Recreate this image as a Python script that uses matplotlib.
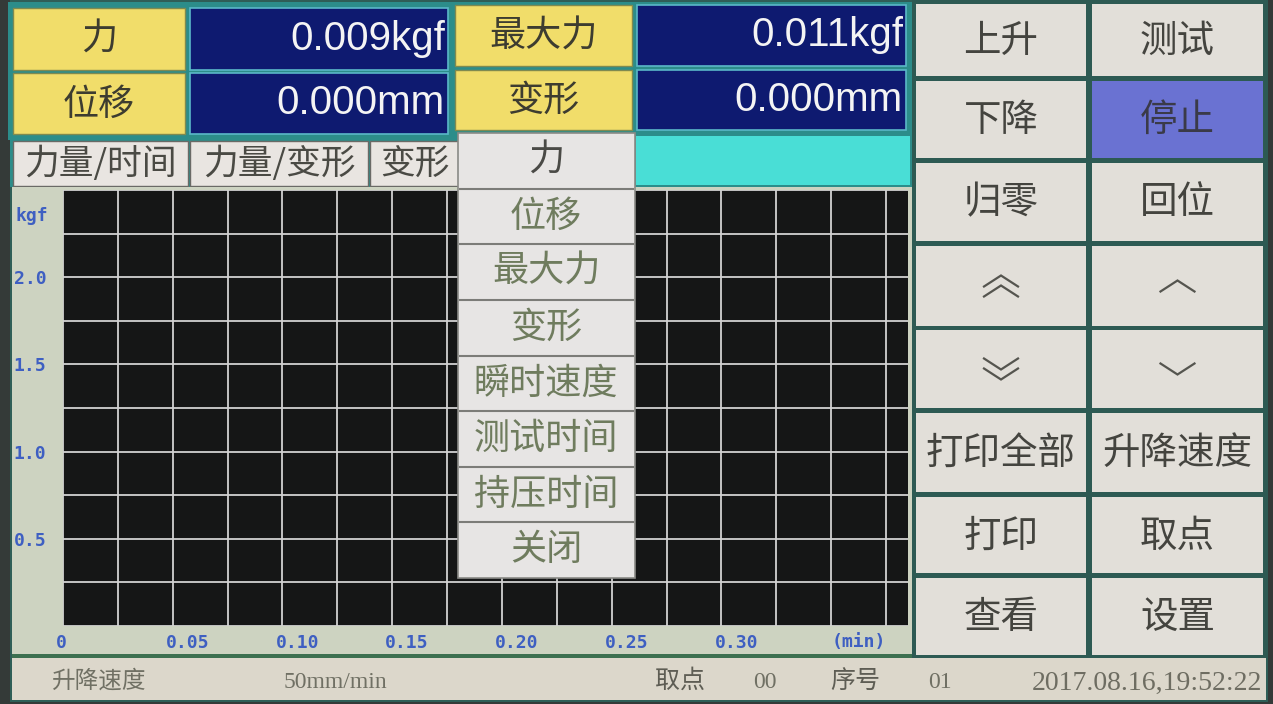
import matplotlib
matplotlib.use("Agg")
import matplotlib.pyplot as plt
import matplotlib.transforms as mtransforms
from matplotlib.patches import Rectangle
from matplotlib.ticker import MultipleLocator

plt.rcParams['font.family'] = ['Noto Sans CJK SC', 'DejaVu Sans']
plt.rcParams['font.weight'] = 'light'

# readout panel
readout_names = ["力", "位移", "最大力", "变形"]
readout_values = ["0.009kgf", "0.000mm", "0.011kgf", "0.000mm"]

# chart tabs and dropdown menu
tab_names = ["力量/时间", "力量/变形", "变形"]
menu_items = ["力", "位移", "最大力", "变形", "瞬时速度", "测试时间", "持压时间", "关闭"]

# chart axes
x_ticks = [0, 0.05, 0.10, 0.15, 0.20, 0.25, 0.30]
x_labels = ["0", "0.05", "0.10", "0.15", "0.20", "0.25", "0.30"]
y_ticks = [0.5, 1.0, 1.5, 2.0]
y_labels = ["0.5", "1.0", "1.5", "2.0"]
x_unit = "(min)"
y_unit = "kgf"

# right-hand buttons, left column / right column
buttons_left = ["上升", "下降", "归零", "︽", "︾", "打印全部", "打印", "查看"]
buttons_right = ["测试", "停止", "回位", "︿", "﹀", "升降速度", "取点", "设置"]
active_button = "停止"
# arrow buttons drawn as chevrons: (direction, count)
chevrons = {"︽": (1, 2), "︾": (-1, 2), "︿": (1, 1), "﹀": (-1, 1)}

# status bar
status_speed = ("升降速度", "50mm/min")
status_point = ("取点", "00")
status_index = ("序号", "01")
status_time = "2017.08.16,19:52:22"

W, H = 1273, 704
fig = plt.figure(figsize=(W / 100, H / 100), dpi=100, facecolor="#343a38")

base = fig.add_axes([0, 0, 1, 1], zorder=0)
base.set_xlim(0, W)
base.set_ylim(H, 0)
base.axis("off")


def box(ax, x0, y0, x1, y1, fc, ec="none", lw=0, z=1):
    ax.add_patch(Rectangle((x0, y0), x1 - x0, y1 - y0, facecolor=fc,
                           edgecolor=ec, linewidth=lw, zorder=z))


def label(ax, x, y, s, size, color, ha="center", z=3, **kw):
    ax.text(x, y, s, ha=ha, va="center", fontsize=size, color=color,
            zorder=z, **kw)


def chevron(ax, cx, cy, direction, count, half_w=17, rise=11, gap=10):
    start = cy + (count - 1) * gap / 2 * direction
    for k in range(count):
        tip = start - k * gap * direction - rise / 2 * direction
        foot = tip + rise * direction
        ax.plot([cx - half_w, cx, cx + half_w], [foot, tip, foot],
                color="#55554f", lw=1.6, zorder=3, solid_joinstyle="miter")


# screen background
box(base, 10, 0, 1268, 702, "#2f5e57")

# readout panel
box(base, 8, 2, 912, 140, "#2c8d8a")
rows = [(8, 70), (73, 134)]
for i, name in enumerate(readout_names):
    r = i % 2
    c = i // 2
    y0, y1 = rows[r]
    if c == 0:
        nx0, nx1, vx0, vx1 = 13, 185, 190, 448
    else:
        nx0, nx1, vx0, vx1 = 455, 632, 637, 906
        y0, y1 = y0 - 3, y1 - 4
    box(base, nx0, y0, nx1, y1, "#f1dd6a", "#7f8a50", 1)
    label(base, (nx0 + nx1) / 2, (y0 + y1) / 2 + 1, name, 26, "#3d3c30")
    box(base, vx0, y0, vx1, y1, "#0e1a70", "#5ab8c8", 1.2)
    label(base, vx1 - 3, (y0 + y1) / 2, readout_values[i], 29, "#f4f4f4",
          ha="right", family=["Liberation Sans", "DejaVu Sans"],
          fontweight="normal")

# tabs row
box(base, 10, 138, 912, 187, "#2c8d8a")
tab_edges = [(13, 188), (190, 368), (370, 460)]
for name, (x0, x1) in zip(tab_names, tab_edges):
    box(base, x0, 141, x1, 186, "#e9e5e1", "#6a6a66", 1)
    cx = (x0 + x1) / 2 if x1 < 450 else x0 + 45
    label(base, cx, 164, name, 25, "#4a4a44")
box(base, 636, 136, 910, 185, "#49ded6")

# chart panel
box(base, 12, 187, 912, 656, "#cdd3c1")
box(base, 12, 654, 912, 658, "#3c7050")

# right-hand buttons
box(base, 912, 0, 1268, 660, "#2d5a53")
row_edges = [(4, 76), (81, 158), (163, 241), (246, 326), (330, 408),
             (413, 492), (497, 573), (578, 655)]
for (y0, y1), bl, br in zip(row_edges, buttons_left, buttons_right):
    for (x0, x1), name in (((916, 1086), bl), ((1092, 1263), br)):
        fc = "#6a72d2" if name == active_button else "#e2dfd9"
        box(base, x0, y0, x1, y1, fc)
        cx, cy = (x0 + x1) / 2, (y0 + y1) / 2
        if name in chevrons:
            direction, count = chevrons[name]
            chevron(base, cx, cy, direction, count)
        else:
            label(base, cx, cy + 1, name, 27,
                  "#3a3a48" if name == active_button else "#44443f")

# status bar
box(base, 12, 658, 1266, 700, "#dcd7cb")
serif = ["Liberation Serif", "Noto Sans CJK SC"]
label(base, 98, 681, status_speed[0], 17, "#707064")
label(base, 335, 682, status_speed[1], 17, "#707064", family=serif)
label(base, 680, 681, status_point[0], 18, "#5e5d54")
label(base, 765, 683, status_point[1], 17, "#707064", family=serif)
label(base, 855, 681, status_index[0], 18, "#5e5d54")
label(base, 940, 683, status_index[1], 17, "#707064", family=serif)
label(base, 1262, 683, status_time, 20, "#6e6d62", ha="right", family=serif)

# chart
left, right, top, bottom = 63, 908, 190, 626
ax = fig.add_axes([left / W, (H - bottom) / H, (right - left) / W,
                   (bottom - top) / H], zorder=1)
ax.set_facecolor("#151616")
ax.set_xlim(0, 0.385)
ax.set_ylim(0, 2.5)
ax.xaxis.set_minor_locator(MultipleLocator(0.025))
ax.yaxis.set_minor_locator(MultipleLocator(0.25))
ax.set_xticks(x_ticks, x_labels)
ax.set_yticks(y_ticks, y_labels)
ax.grid(which="both", color="#d2d2d2", linewidth=1.3)
ax.tick_params(which="both", length=0)
ax.tick_params(axis="x", pad=6)
ax.tick_params(axis="y", pad=12)
for spine in ax.spines.values():
    spine.set_visible(False)
mono = dict(family="DejaVu Sans Mono", fontweight="bold", fontsize=13,
            color="#3e5fc2")
shift = mtransforms.ScaledTranslation(-0.07, 0, fig.dpi_scale_trans)
for t in ax.get_xticklabels():
    t.set(ha="left", **mono)
    t.set_transform(t.get_transform() + shift)
for t in ax.get_yticklabels():
    t.set(**mono)
ax.text(0.35, -0.037, x_unit, transform=ax.get_xaxis_transform(),
        ha="left", va="center", **mono)
ax.text(-0.018, 2.35, y_unit, transform=ax.get_yaxis_transform(),
        ha="right", va="center", **mono)

# dropdown menu on top of the chart
top_ax = fig.add_axes([0, 0, 1, 1], zorder=5)
top_ax.set_xlim(0, W)
top_ax.set_ylim(H, 0)
top_ax.axis("off")
top_ax.patch.set_alpha(0)
box(top_ax, 458, 133, 635, 578, "#e7e5e4", "#8a8a86", 1.2)
item_h = (578 - 133) / len(menu_items)
for i, name in enumerate(menu_items):
    y0 = 133 + i * item_h
    if i > 0:
        top_ax.plot([460, 633], [y0, y0], color="#7c7c78", lw=1.5, zorder=2)
    label(top_ax, 546, y0 + item_h / 2, name, 26,
          "#4a4a46" if i == 0 else "#6f7c5e")

fig.savefig("out.png", dpi=100, facecolor=fig.get_facecolor())
